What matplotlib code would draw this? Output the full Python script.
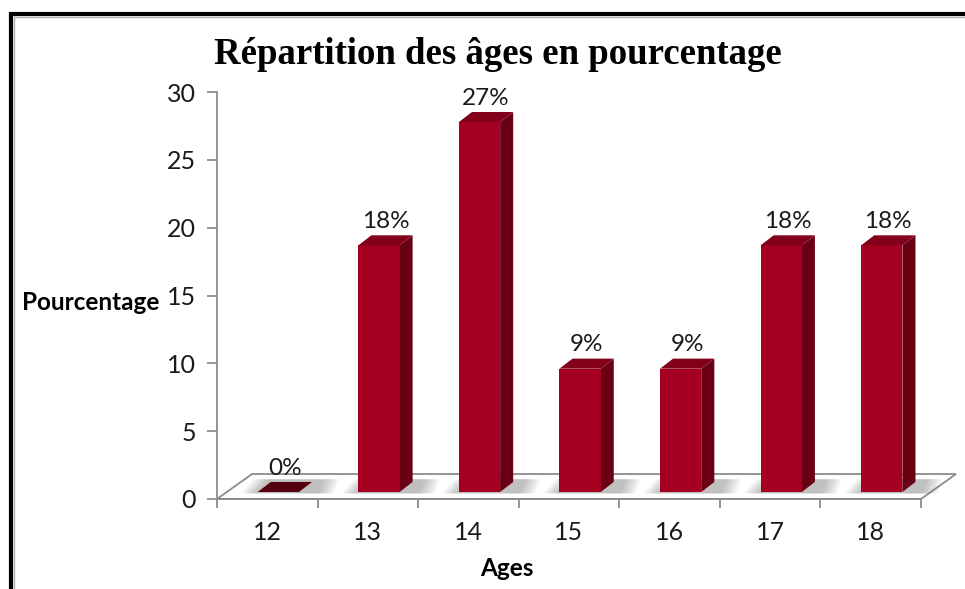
import matplotlib
matplotlib.use("Agg")
import matplotlib.pyplot as plt
from matplotlib.patches import Polygon
from matplotlib.lines import Line2D

# data
ages = ["12", "13", "14", "15", "16", "17", "18"]
pourcentages = [0, 18.18, 27.27, 9.09, 9.09, 18.18, 18.18]
etiquettes = ["0%", "18%", "27%", "9%", "9%", "18%", "18%"]
yticks = [0, 5, 10, 15, 20, 25, 30]

# fake 3d geometry, in data units
FLOOR_DX, FLOOR_DY = 0.348, 1.842
BAR_X0, BAR_W = 0.405, 0.41
BAR_BASE = 0.516
SIDE_DX, SIDE_DY = 0.13, 0.74

FRONT = "#a50021"
SIDE = "#690014"
TOP = "#82001a"
GRID = "#8c8c8c"

fig = plt.figure(figsize=(9.65, 5.89), dpi=100)
W, H = 965, 589
ax = fig.add_axes([217 / W, (H - 499) / H, (921 - 217) / W, (499 - 92) / H])
ax.set_xlim(0, len(ages))
ax.set_ylim(0, 30)

font = ["Lato", "DejaVu Sans"]

# floor
floor = Polygon([(0, 0), (len(ages), 0), (len(ages) + FLOOR_DX, FLOOR_DY), (FLOOR_DX, FLOOR_DY)],
                closed=True, facecolor="white", edgecolor=GRID, lw=1.3, clip_on=False, zorder=1)
ax.add_patch(floor)

for i, v in enumerate(pourcentages):
    x0 = i + BAR_X0
    x1 = x0 + BAR_W
    yb = BAR_BASE
    yt = v + BAR_BASE
    # soft shadow on the floor
    for n in range(10):
        k = 0.17 - n * 0.017
        sh = Polygon([(x0 - k, yb - 0.1), (x1 + SIDE_DX + 0.05 + k, yb - 0.1),
                      (x1 + SIDE_DX + 0.1 + k, yb + SIDE_DY + 0.2), (x0 + SIDE_DX - k, yb + SIDE_DY + 0.2)],
                     closed=True, facecolor="#5a5a5a", edgecolor="none", alpha=0.045, zorder=2, clip_on=False)
        ax.add_patch(sh)
    if v > 0:
        side = Polygon([(x1, yb), (x1 + SIDE_DX, yb + SIDE_DY), (x1 + SIDE_DX, yt + SIDE_DY), (x1, yt)],
                       closed=True, facecolor=SIDE, edgecolor="none", zorder=3)
        front = Polygon([(x0, yb), (x1, yb), (x1, yt), (x0, yt)],
                        closed=True, facecolor=FRONT, edgecolor="none", zorder=4)
        ax.add_patch(side)
        ax.add_patch(front)
    top = Polygon([(x0, yt), (x1, yt), (x1 + SIDE_DX, yt + SIDE_DY), (x0 + SIDE_DX, yt + SIDE_DY)],
                  closed=True, facecolor=TOP if v > 0 else "#55000f", edgecolor="none", zorder=5)
    ax.add_patch(top)
    ax.text(i + BAR_X0 + (BAR_W + SIDE_DX) / 2, yt + SIDE_DY + 0.25, etiquettes[i],
            ha="center", va="bottom", fontsize=17.5, family=font, color="#1a1a1a", zorder=6)

# axes styling
for s in ["top", "right"]:
    ax.spines[s].set_visible(False)
for s in ["left", "bottom"]:
    ax.spines[s].set_color(GRID)
    ax.spines[s].set_linewidth(1.3)
ax.set_yticks(yticks)
ax.set_yticklabels([str(t) for t in yticks], fontsize=18, family=font, color="#1a1a1a")
ax.tick_params(axis="y", direction="out", length=7, width=1.3, color=GRID, pad=8)
ax.set_xticks(range(len(ages) + 1))
ax.set_xticklabels([])
ax.tick_params(axis="x", which="major", direction="out", length=6.5, width=1.3, color=GRID)
ax.set_xticks([i + 0.5 for i in range(len(ages))], minor=True)
ax.set_xticklabels(ages, minor=True, fontsize=18, family=font, color="#1a1a1a")
ax.tick_params(axis="x", which="minor", length=0, pad=16)

fig.text(498 / W, 1 - 55 / H, "Répartition des âges en pourcentage", ha="center", va="center",
         fontsize=26.5, fontweight="bold", family=["Liberation Serif", "DejaVu Serif"])
fig.text(22 / W, 1 - 303 / H, "Pourcentage", ha="left", va="center",
         fontsize=17.5, fontweight="bold", family=font)
fig.text(507 / W, 1 - 568 / H, "Ages", ha="center", va="center",
         fontsize=17.5, fontweight="bold", family=font)

# chart border (top and left, with light shadow)
fig.add_artist(Line2D([10 / W, 1], [1 - 13.5 / H, 1 - 13.5 / H], color="black", lw=3, solid_capstyle="butt"))
fig.add_artist(Line2D([11 / W, 11 / W], [1 - 12 / H, 0], color="black", lw=3, solid_capstyle="butt"))
fig.add_artist(Line2D([14 / W, 1], [1 - 16.5 / H, 1 - 16.5 / H], color="#b0b0b0", lw=1, solid_capstyle="butt"))
fig.add_artist(Line2D([14 / W, 14 / W], [1 - 16 / H, 0], color="#b0b0b0", lw=1, solid_capstyle="butt"))

fig.savefig("out.png", dpi=100)
